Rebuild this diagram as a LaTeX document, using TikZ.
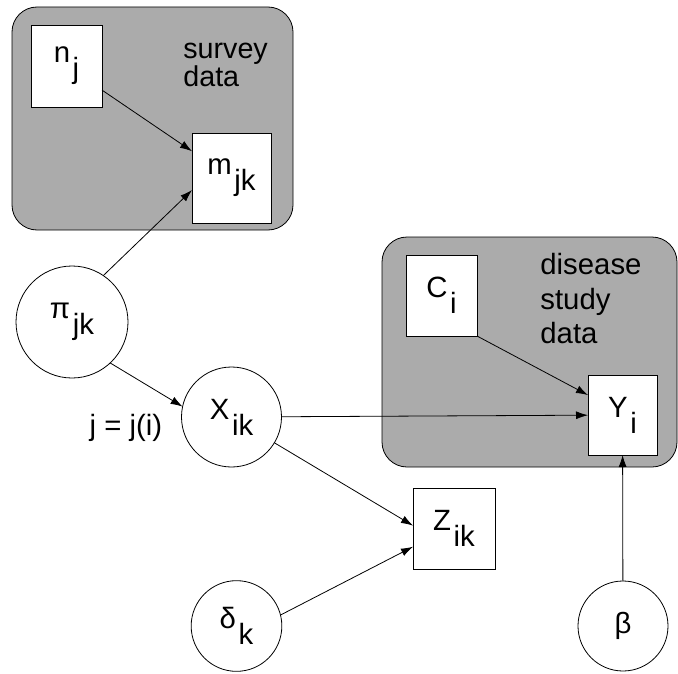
\documentclass[tikz,border=0pt]{standalone}
\usepackage{fontspec}
\setmainfont{Liberation Sans}
\usetikzlibrary{arrows.meta}

\newcommand{\lbl}[2]{#1\kern2pt\raisebox{-0.55em}{#2}}

\begin{document}
\begin{tikzpicture}[x=0.75pt, y=-0.75pt, line width=0.6pt,
    >={Latex[length=9pt,width=6pt]},
    font=\fontsize{22}{26}\selectfont,
    obs/.style = {draw, fill=white, inner sep=0pt, outer sep=0pt},
    var/.style = {draw, circle, fill=white, inner sep=0pt, outer sep=0pt},
    plate/.style = {draw, rounded corners=18.75pt, fill=black!33, inner sep=0pt}]
  \useasboundingbox (0,0) rectangle (678,674);

  % data plates
  \node[plate, minimum width=210.75pt, minimum height=167.25pt] (survey) at (152.5,118.5) {};
  \node[plate, minimum width=221.25pt, minimum height=172.5pt] (disease) at (529.5,352) {};
  \node[anchor=north west, align=left, inner sep=0pt, font=\fontsize{21.5}{21}\selectfont] (surveytxt) at (183,43) {survey\\data};
  \node[anchor=north west, align=left, inner sep=0pt] (diseasetxt) at (540,253) {disease\\study\\data};

  % observed nodes
  \node[obs, minimum width=53.25pt, minimum height=61.5pt] (n) at (66.5,66) {\lbl{n}{j}};
  \node[obs, minimum width=59.25pt, minimum height=67.5pt] (m) at (231.5,178) {\lbl{m}{jk}};
  \node[obs, minimum width=53.25pt, minimum height=60.75pt] (C) at (441.5,295.5) {\lbl{C}{i}};
  \node[obs, minimum width=51.75pt, minimum height=60pt] (Y) at (622.5,415) {\lbl{Y}{i}};
  \node[obs, minimum width=61.5pt, minimum height=60.75pt] (Z) at (454,528.5) {\lbl{Z}{ik}};

  % parameters
  \node[var, minimum size=84pt] (pi) at (72,322) {\lbl{π}{jk}};
  \node[var, minimum size=75pt] (X) at (231.5,417) {\lbl{X}{ik}};
  \node[var, minimum size=68pt] (delta) at (236.5,626) {\lbl{δ}{k}};
  \node[var, minimum size=67.5pt] (beta) at (623,626) {β};
  \node (jlabel) at (126,428) {j = j(i)};

  \draw[->] (n) -- (m);
  \draw[->] (pi.56) -- (m.197);
  \draw[->] (pi.-47) -- (X.168);
  \draw[->] (X) -- (Y);
  \draw[->] (C.south east) -- (Y.150);
  \draw[->] (X.-31) -- (Z.176);
  \draw[->] (delta.14) -- (Z.204);
  \draw[->] (beta) -- (Y);
\end{tikzpicture}
\end{document}
